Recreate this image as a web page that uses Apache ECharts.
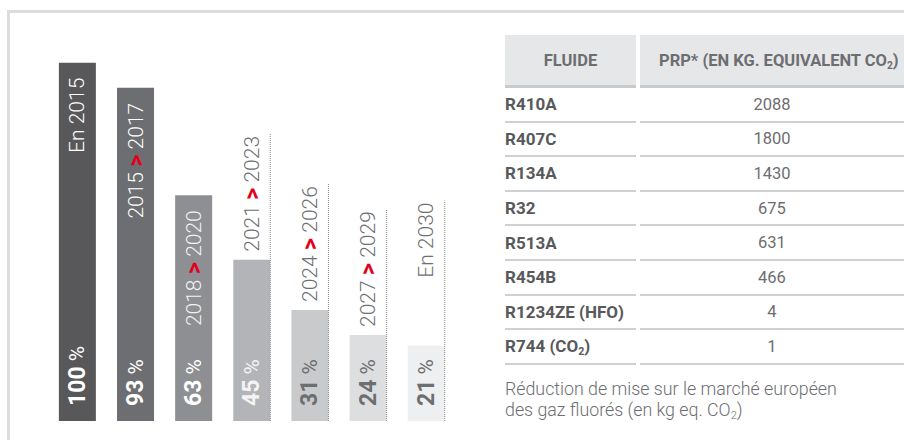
<!DOCTYPE html>
<html lang="fr">
<head>
<meta charset="utf-8">
<title>Réduction de mise sur le marché des gaz fluorés</title>
<script src="https://cdn.jsdelivr.net/npm/echarts@6/dist/echarts.min.js"></script>
<style>
  html, body { margin: 0; padding: 0; background: #fff; }
  #wrap { position: relative; width: 904px; height: 440px; overflow: hidden; background: #fff; }
  #frame { position: absolute; left: 7px; top: 10px; width: 920px; height: 460px;
           border-left: 3px solid #dcdcdc; border-top: 3px solid #dcdcdc; box-sizing: border-box; }
  #chart { position: absolute; left: 0; top: 0; width: 480px; height: 440px; }
  #gwp { position: absolute; left: 505px; top: 35px; width: 440px;
         font-family: Roboto, "Liberation Sans", sans-serif; }
  .row { display: flex; }
  .cell { box-sizing: border-box; display: flex; align-items: center; }
  .c1 { width: 131px; margin-right: 4px; }
  .c2 { width: 264px; justify-content: center; }
  .head .cell { height: 53px; background: #e6e7e8; border-bottom: 3px solid #c9cacb;
                color: #6d6e71; font-weight: 700; font-size: 16.5px; }
  .head .c1 { justify-content: center; }
  .head .c2 { justify-content: flex-start; padding-left: 19px; width: 300px; }
  .body .cell { height: 34.6px; border-bottom: 2px solid #cfd0d1; }
  .body .c1 { color: #58595b; font-weight: 700; font-size: 17px; }
  .body .c2 { color: #6d6e71; font-weight: 400; font-size: 16.5px; }
  sub { font-size: 0.62em; vertical-align: -0.3em; line-height: 0; }
  #note { position: absolute; left: 505px; top: 378px; margin: 0;
          font-family: Roboto, "Liberation Sans", sans-serif; font-weight: 300;
          font-size: 17.8px; line-height: 21px; color: #6d6e71; }
</style>
</head>
<body>
<div id="wrap">
  <div id="frame"></div>
  <div id="chart"></div>
  <div id="gwp"></div>
  <p id="note">Réduction de mise sur le marché européen<br>des gaz fluorés (en kg eq. CO<sub>2</sub>)</p>
</div>
<script>
// Quota of fluorinated gases placed on the EU market, relative to 2015 (%)
const periods = ['En 2015', '2015 > 2017', '2018 > 2020', '2021 > 2023', '2024 > 2026', '2027 > 2029', 'En 2030'];
const shares = [100, 93, 63, 45, 31, 24, 21];

// Global warming potential table
const fluids = ['R410A', 'R407C', 'R134A', 'R32', 'R513A', 'R454B', 'R1234ZE (HFO)', 'R744 (CO2)'];
const gwp = [2088, 1800, 1430, 675, 631, 466, 4, 1];
const tableHeader = ['FLUIDE', 'PRP* (EN KG. EQUIVALENT CO2)'];

// Styling
const barColors = ['#58585a', '#6d6e71', '#8e8f92', '#b3b4b7', '#c9cacc', '#dddee0', '#eeeff1'];
const pctColors = ['#ffffff', '#ffffff', '#ffffff', '#f4f4f5', '#6d6e71', '#6d6e71', '#6d6e71'];
const periodInside = [true, true, true, false, false, false, false];
const periodColors = ['#ffffff', '#ffffff', '#f2f2f3', '#6d6e71', '#6d6e71', '#6d6e71', '#6d6e71'];
const periodGapAbove = [0, 0, 0, 8, 8, 8, 68];
const BAR_W = 37;
const RED = '#e2001a';
const FONT = 'Roboto, "Liberation Sans", sans-serif';
const YEAR_SIZE = 21;
const ARROW_SIZE = 24;

function withSub(s) { return '<span>' + s.replace('CO2', 'CO<sub>2</sub>') + '</span>'; }

// ---- table ----
(function buildTable() {
  const box = document.getElementById('gwp');
  let html = '<div class="row head"><div class="cell c1">' + withSub(tableHeader[0]) +
             '</div><div class="cell c2">' + withSub(tableHeader[1]) + '</div></div><div class="body">';
  fluids.forEach((f, i) => {
    html += '<div class="row"><div class="cell c1">' + withSub(f) +
            '</div><div class="cell c2">' + gwp[i] + '</div></div>';
  });
  html += '</div>';
  box.innerHTML = html;
})();

// ---- chart ----
const measureCtx = document.createElement('canvas').getContext('2d');
function textWidth(str, weight, size) {
  measureCtx.font = weight + ' ' + size + 'px ' + FONT;
  return measureCtx.measureText(str).width;
}
function periodRich(label) {
  const parts = label.split(' > ');
  if (parts.length === 2) return '{n|' + parts[0] + ' }{r|>}{n| ' + parts[1] + '}';
  return '{n|' + label + '}';
}
function periodLength(label) {
  const parts = label.split(' > ');
  if (parts.length === 2) {
    return textWidth(parts[0] + ' ', 300, YEAR_SIZE) + textWidth('>', 700, ARROW_SIZE) +
           textWidth(' ' + parts[1], 300, YEAR_SIZE);
  }
  return textWidth(label, 300, YEAR_SIZE);
}

const chart = echarts.init(document.getElementById('chart'), null, { renderer: 'svg' });

chart.setOption({
  animation: false,
  grid: { left: 48.3, top: 62.7, width: 407, height: 358.3 },
  xAxis: { type: 'category', data: periods, show: false },
  yAxis: { type: 'value', min: 0, max: 100, show: false },
  series: [
    {
      type: 'bar',
      barWidth: BAR_W,
      data: shares.map((v, i) => ({
        value: v,
        itemStyle: { color: barColors[i] },
        label: {
          rich: {
            v: { color: pctColors[i], fontSize: 23, fontWeight: 700, fontFamily: FONT },
            p: { color: pctColors[i], fontSize: 21, fontWeight: 400, fontFamily: FONT }
          }
        }
      })),
      label: {
        show: true,
        position: 'insideBottom',
        distance: 15,
        rotate: 90,
        align: 'left',
        verticalAlign: 'middle',
        formatter: p => '{v|' + p.value + '}{p| %}'
      }
    },
    {
      type: 'custom',
      data: shares.map((v, i) => [i, v]),
      z: 5,
      renderItem(params, api) {
        const i = api.value(0);
        const top = api.coord([i, api.value(1)]);
        const base = api.coord([i, 0]);
        const cx = top[0];
        const label = periods[i];
        const rich = {
          n: { fill: periodColors[i], fontSize: YEAR_SIZE, fontWeight: 300, fontFamily: FONT },
          r: { fill: RED, fontSize: ARROW_SIZE, fontWeight: 700, fontFamily: FONT }
        };
        const children = [];
        if (periodInside[i]) {
          children.push({
            type: 'text', x: cx, y: top[1] + 15, rotation: Math.PI / 2,
            style: { text: periodRich(label), rich, align: 'right', verticalAlign: 'middle' }
          });
        } else {
          const y0 = top[1] - periodGapAbove[i];
          const len = periodLength(label);
          children.push({
            type: 'text', x: cx, y: y0, rotation: Math.PI / 2,
            style: { text: periodRich(label), rich, align: 'left', verticalAlign: 'middle' }
          });
          const xr = cx + BAR_W / 2;
          children.push({
            type: 'line',
            shape: { x1: xr, y1: base[1], x2: xr, y2: y0 - len - 2 },
            style: { stroke: '#8a8b8d', lineWidth: 1, lineDash: [1, 1] }
          });
        }
        return { type: 'group', children };
      }
    }
  ]
});
</script>
</body>
</html>
